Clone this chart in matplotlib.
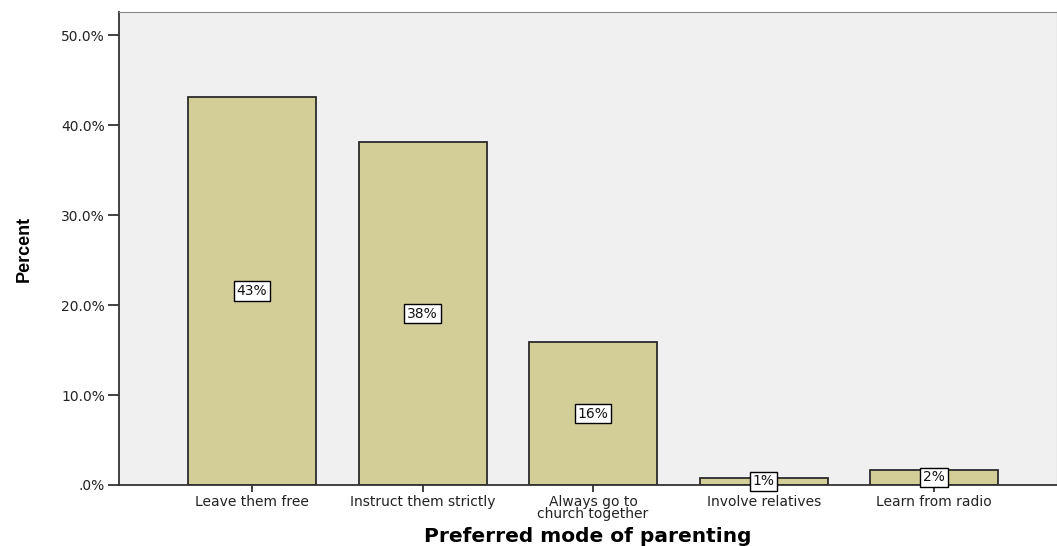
import matplotlib
matplotlib.use("Agg")
import matplotlib.pyplot as plt
import numpy as np

# ── Data ──────────────────────────────────────────────────────────────────────
categories = ["Leave them free", "Instruct them strictly", "Always go to\nchurch together",
              "Involve relatives", "Learn from radio"]
percent    = [43.2, 38.1, 15.9, 0.8, 1.7]
bar_labels = ["43%", "38%", "16%", "1%", "2%"]
yticks     = [0, 10, 20, 30, 40, 50]
ytick_lbls = [".0%", "10.0%", "20.0%", "30.0%", "40.0%", "50.0%"]

# ── Style ─────────────────────────────────────────────────────────────────────
plt.rcParams["font.family"] = ["DejaVu Sans"]
BAR_COLOR = "#D3CD97"
EDGE      = "#2b2b2b"
BG        = "#F0F0F0"

fig = plt.figure(figsize=(10.57, 5.46), dpi=100)
ax = fig.add_axes([119/1057, 1 - 485/546, (1057 - 119)/1057, (485 - 12)/546])
ax.set_facecolor(BG)

x = np.arange(len(categories))
bars = ax.bar(x, percent, width=0.75, color=BAR_COLOR, edgecolor=EDGE, linewidth=1.3, zorder=2)

# value labels in the middle of each bar
for bar, lbl in zip(bars, bar_labels):
    h = bar.get_height()
    ax.text(bar.get_x() + bar.get_width()/2, h/2, lbl, ha="center", va="center",
            fontsize=10, zorder=4, color="#111111",
            bbox=dict(boxstyle="square,pad=0.2", facecolor="white", edgecolor="black", linewidth=1))

ax.set_xlim(-0.78, 4.72)
ax.set_ylim(0, 52.6)
ax.set_yticks(yticks)
ax.set_yticklabels(ytick_lbls, fontsize=10, color="#222222")
ax.set_xticks(x)
ax.set_xticklabels(categories, fontsize=10, color="#222222", linespacing=0.8)
ax.tick_params(axis="y", direction="out", length=8, width=1.3, color="#333333", pad=2)
ax.tick_params(axis="x", direction="out", length=5, width=1.3, color="#333333", pad=2)

for side in ["left", "bottom"]:
    ax.spines[side].set_color("#333333")
    ax.spines[side].set_linewidth(1.3)
for side in ["top", "right"]:
    ax.spines[side].set_color("#888888")
    ax.spines[side].set_linewidth(0.8)

ax.set_ylabel("Percent", fontsize=13, fontweight="bold", family="Liberation Sans")
ax.yaxis.set_label_coords(-0.092, 0.5)
ax.set_xlabel("Preferred mode of parenting", fontsize=14.5, fontweight="bold")
ax.xaxis.set_label_coords(0.5, -0.088)

fig.savefig("out.png", dpi=100)
